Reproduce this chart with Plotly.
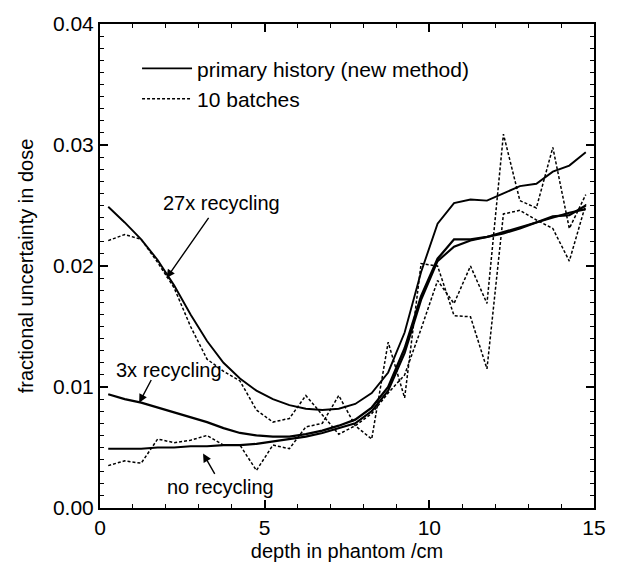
import plotly.graph_objects as go

depth = [0.25, 0.75, 1.25, 1.75, 2.25, 2.75, 3.25, 3.75, 4.25, 4.75,
         5.25, 5.75, 6.25, 6.75, 7.25, 7.75, 8.25, 8.75, 9.25, 9.75,
         10.25, 10.75, 11.25, 11.75, 12.25, 12.75, 13.25, 13.75, 14.25, 14.75]

# primary history (new method)
hist_27x = [0.0249, 0.0236, 0.0222, 0.0205, 0.0184, 0.0160, 0.0138, 0.0120, 0.0107, 0.0097,
            0.0090, 0.0085, 0.0082, 0.0081, 0.0082, 0.0086, 0.0095, 0.0112, 0.0145, 0.0195,
            0.0235, 0.0252, 0.0255, 0.0254, 0.0260, 0.0266, 0.0268, 0.0278, 0.0283, 0.0294]
hist_3x = [0.0094, 0.0090, 0.0087, 0.0083, 0.0079, 0.0075, 0.0071, 0.0066, 0.0062, 0.0060,
           0.0059, 0.0059, 0.0061, 0.0064, 0.0068, 0.0073, 0.0083, 0.0100, 0.0132, 0.0175,
           0.0206, 0.0222, 0.0222, 0.0224, 0.0227, 0.0231, 0.0236, 0.0241, 0.0242, 0.0250]
hist_none = [0.0049, 0.0049, 0.0049, 0.0050, 0.0050, 0.0051, 0.0051, 0.0052, 0.0052, 0.0053,
             0.0055, 0.0057, 0.0059, 0.0062, 0.0066, 0.0070, 0.0080, 0.0097, 0.0128, 0.0172,
             0.0204, 0.0216, 0.0221, 0.0224, 0.0228, 0.0232, 0.0236, 0.0240, 0.0244, 0.0247]

# 10 batches
batch_27x = [0.0221, 0.0226, 0.0222, 0.0203, 0.0182, 0.0150, 0.0123, 0.0113, 0.0105, 0.0081,
             0.0071, 0.0074, 0.0093, 0.0077, 0.0061, 0.0068, 0.0078, 0.0095, 0.0110, 0.0148,
             0.0188, 0.0169, 0.0200, 0.0169, 0.0309, 0.0254, 0.0248, 0.0298, 0.0231, 0.0259]
batch_none = [0.0035, 0.0039, 0.0037, 0.0057, 0.0054, 0.0056, 0.0060, 0.0052, 0.0052, 0.0031,
              0.0052, 0.0049, 0.0067, 0.0070, 0.0093, 0.0068, 0.0057, 0.0137, 0.0091, 0.0202,
              0.0200, 0.0159, 0.0158, 0.0115, 0.0243, 0.0246, 0.0238, 0.0231, 0.0204, 0.0251]

x_ticks = [0, 5, 10, 15]
y_ticks = [0.00, 0.01, 0.02, 0.03, 0.04]
y_labels = ["0.00", "0.01", "0.02", "0.03", "0.04"]

FONT = "Liberation Sans, Arial, sans-serif"

fig = go.Figure()
solid = dict(color="black", width=1.9)
dotted = dict(color="black", width=1.5, dash="3px,2px")

fig.add_trace(go.Scatter(x=depth, y=hist_27x, mode="lines", line=solid,
                         name="primary history (new method)", legendgroup="h"))
fig.add_trace(go.Scatter(x=depth, y=batch_27x, mode="lines", line=dotted,
                         name="10 batches", legendgroup="b"))
fig.add_trace(go.Scatter(x=depth, y=hist_3x, mode="lines", line=dict(color="black", width=2.3),
                         showlegend=False, legendgroup="h"))
fig.add_trace(go.Scatter(x=depth, y=hist_none, mode="lines", line=dict(color="black", width=2.1),
                         showlegend=False, legendgroup="h"))
fig.add_trace(go.Scatter(x=depth, y=batch_none, mode="lines", line=dotted,
                         showlegend=False, legendgroup="b"))

# labels with arrows
labels = [
    dict(text="27x recycling", tx=3.7, ty=0.0252, hx=2.02, hy=0.0190, sx=3.33, sy=0.0241),
    dict(text="3x recycling", tx=2.08, ty=0.0114, hx=1.19, hy=0.0087, sx=1.58, sy=0.0107),
    dict(text="no recycling", tx=3.66, ty=0.0017, hx=3.13, hy=0.0045, sx=3.51, sy=0.0027),
]
for lb in labels:
    fig.add_annotation(x=lb["tx"], y=lb["ty"], text=lb["text"], showarrow=False,
                       font=dict(family=FONT, size=20, color="black"))
    fig.add_annotation(x=lb["hx"], y=lb["hy"], ax=lb["sx"], ay=lb["sy"],
                       xref="x", yref="y", axref="x", ayref="y", text="",
                       showarrow=True, arrowhead=2, arrowsize=1.2, arrowwidth=1.4,
                       arrowcolor="black")

axis_common = dict(showline=True, linecolor="black", linewidth=2, mirror="allticks",
                   ticks="inside", ticklen=8, tickwidth=1.5, tickcolor="black",
                   showgrid=False, zeroline=False,
                   tickfont=dict(family=FONT, size=21, color="black"),
                   title_font=dict(family=FONT, size=20, color="black"))

fig.update_xaxes(range=[0, 15], tickvals=x_ticks, title_text="depth in phantom /cm",
                 minor=dict(dtick=1, ticks="inside", ticklen=4, tickwidth=1.2, tickcolor="black"),
                 title_standoff=6, **axis_common)
fig.update_yaxes(range=[0, 0.04], tickvals=y_ticks, ticktext=y_labels,
                 title_text="fractional uncertainty in dose",
                 minor=dict(dtick=0.001, ticks="inside", ticklen=4, tickwidth=1.2, tickcolor="black"),
                 title_standoff=14, **axis_common)

fig.update_layout(
    width=618, height=571,
    margin=dict(l=100, r=14, t=17, b=58),
    plot_bgcolor="white", paper_bgcolor="white",
    font=dict(family=FONT, size=20, color="black"),
    legend=dict(x=0.075, y=0.95, xanchor="left", yanchor="top", bgcolor="rgba(0,0,0,0)",
                font=dict(family=FONT, size=21, color="black"), tracegroupgap=0,
                itemwidth=50),
)

fig.write_html("out.html")
